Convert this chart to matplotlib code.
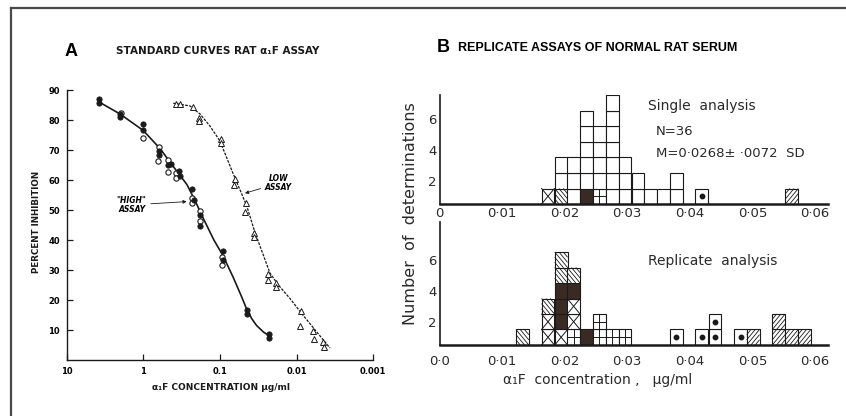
import numpy as np
import matplotlib
matplotlib.use("Agg")
import matplotlib.pyplot as plt
from matplotlib.lines import Line2D
from matplotlib.transforms import ScaledTranslation

# ---- panel A: standard curves (concentration in ug/ml, percent inhibition)
high_filled_c = [3.8, 3.8, 2.0, 2.0, 1.0, 1.0, 0.63, 0.63, 0.48, 0.43, 0.34, 0.33,
                 0.23, 0.216, 0.18, 0.18, 0.092, 0.092, 0.045, 0.045, 0.0227, 0.0227]
high_filled_y = [87.0, 85.6, 82.0, 81.0, 78.7, 76.7, 69.7, 68.3, 65.0, 65.2, 63.0, 61.4,
                 57.0, 53.3, 48.3, 44.7, 36.3, 33.3, 16.7, 15.2, 8.6, 7.4]
high_open_c = [1.95, 1.0, 0.62, 0.64, 0.48, 0.47, 0.37, 0.37, 0.235, 0.235, 0.18, 0.18, 0.093, 0.093]
high_open_y = [82.2, 74.1, 71.1, 66.3, 66.7, 62.8, 62.2, 60.8, 54.1, 52.4, 49.7, 46.3, 34.4, 31.7]
high_curve_c = [3.83, 2.01, 1.0, 0.606, 0.367, 0.27, 0.21, 0.16, 0.12, 0.0923, 0.067,
                0.052, 0.0449, 0.0385, 0.0333, 0.027, 0.0223]
high_curve_y = [86.1, 82.0, 76.5, 70.5, 63.0, 58.5, 53.0, 46.5, 40.0, 35.0, 27.5,
                21.0, 17.0, 13.8, 11.5, 9.3, 8.0]

low_c = [0.375, 0.33, 0.228, 0.188, 0.188, 0.097, 0.097, 0.0637, 0.065, 0.0458, 0.0465,
         0.036, 0.036, 0.0234, 0.0234, 0.0186, 0.0183, 0.00887, 0.0090, 0.00607, 0.0059, 0.00449, 0.0044]
low_y = [85.2, 85.2, 84.2, 80.6, 79.8, 73.6, 72.2, 60.3, 58.3, 52.4, 49.2,
         42.4, 41.1, 28.6, 26.7, 25.8, 24.4, 16.3, 11.4, 9.7, 6.9, 5.9, 4.4]
low_curve_c = [0.406, 0.246, 0.182, 0.135, 0.1, 0.067, 0.0449, 0.0349, 0.0272, 0.0223,
               0.0173, 0.0122, 0.0086, 0.00548, 0.00367]
low_curve_y = [85.6, 84.7, 82.0, 78.0, 73.0, 62.0, 51.5, 42.5, 35.0, 29.0,
               25.0, 20.5, 15.5, 9.4, 4.0]

conc_ticks = [10, 1, 0.1, 0.01, 0.001]
conc_labels = ["10", "1", "0.1", "0.01", "0.001"]
pct_ticks = [10, 20, 30, 40, 50, 60, 70, 80, 90]

# ---- panel B: histograms, one block per determination
# codes from bottom: o open, x crossed, h back-hatched, d dark, p plus, b dot, s hatched
BIN_W = 0.00205
single_x = [0.0163, 0.0184, 0.0204, 0.0225, 0.0245, 0.0266, 0.0286, 0.0307,
            0.0327, 0.0348, 0.0368, 0.0409, 0.0553]
single_stacks = ["x", "hoo", "ooo", "dooooo", "poooo", "ooooooo", "ooo", "oo",
                 "o", "o", "oo", "b", "s"]
repl_x = [0.0122, 0.0163, 0.0184, 0.0204, 0.0225, 0.0245, 0.0266, 0.0286,
          0.0368, 0.0409, 0.0430, 0.0471, 0.0491, 0.0532, 0.0553, 0.0573]
repl_stacks = ["h", "xxh", "xdddhh", "pxxdh", "d", "pp", "p", "p",
               "b", "b", "bb", "b", "s", "ss", "s", "s"]
hist_ticks = [0, 0.01, 0.02, 0.03, 0.04, 0.05, 0.06]
single_tick_labels = ["0", "0·01", "0·02", "0·03", "0·04", "0·05", "0·06"]
repl_tick_labels = ["0·0", "0·01", "0·02", "0·03", "0·04", "0·05", "0·06"]

INK = "#1a1a1a"
DARK = "#3a2a24"
NARROW = ["Liberation Sans Narrow", "DejaVu Sans"]
plt.rcParams["font.family"] = ["DejaVu Sans"]

fig = plt.figure(figsize=(8.46, 4.16), dpi=100)

# page border (top and left only)
fig.add_artist(Line2D([0.013, 1.0], [0.9796, 0.9796], color="#4a4a4a", lw=1.6))
fig.add_artist(Line2D([0.013, 0.013], [0.0, 0.9796], color="#4a4a4a", lw=1.6))

# ================= panel A
axA = fig.add_axes([0.0788, 0.1346, 0.3624, 0.649])
axA.set_xscale("log")
axA.set_xlim(10, 0.001)
axA.set_ylim(0, 90)
for s in ["top", "right"]:
    axA.spines[s].set_visible(False)
for s in ["left", "bottom"]:
    axA.spines[s].set_color(INK)
    axA.spines[s].set_linewidth(1.0)
axA.set_xticks(conc_ticks, conc_labels)
axA.xaxis.set_minor_locator(matplotlib.ticker.NullLocator())
axA.set_yticks(pct_ticks)
axA.tick_params(direction="in", length=4, width=0.9, color=INK, labelsize=6, pad=5)
for lab in axA.get_xticklabels() + axA.get_yticklabels():
    lab.set_fontweight("bold")
    lab.set_family(NARROW)

axA.plot(high_curve_c, high_curve_y, color=INK, lw=1.2, zorder=2)
axA.plot(low_curve_c, low_curve_y, color=INK, lw=0.9, ls=(0, (2.2, 1.0)), zorder=2)
axA.plot(high_open_c, high_open_y, "o", ms=3.8, mfc="white", mec=INK, mew=0.8, zorder=3)
axA.plot(high_filled_c, high_filled_y, "o", ms=3.8, mfc=INK, mec=INK, mew=0.6, zorder=4)
axA.plot(low_c, low_y, "^", ms=4.6, mfc="white", mec=INK, mew=0.7, zorder=3)

axA.annotate('"HIGH"\nASSAY', xy=(0.272, 52.8), xytext=(1.42, 51.7),
             ha="center", va="center", fontsize=5.5, fontweight="bold", style="italic",
             family=NARROW, linespacing=1.0,
             arrowprops=dict(arrowstyle="-|>", lw=0.6, color=INK, mutation_scale=5,
                             shrinkA=1, shrinkB=0))
axA.annotate("LOW\nASSAY", xy=(0.0472, 55.6), xytext=(0.0173, 58.9),
             ha="center", va="center", fontsize=5.5, fontweight="bold", style="italic",
             family=NARROW, linespacing=1.0,
             arrowprops=dict(arrowstyle="-|>", lw=0.6, color=INK, mutation_scale=5,
                             shrinkA=1, shrinkB=0))

fig.text(0.0768, 0.877, "A", fontsize=13, fontweight="bold", ha="left", va="center",
         family=["Liberation Sans", "DejaVu Sans"])
fig.text(0.2577, 0.877, "STANDARD CURVES RAT α₁F ASSAY", fontsize=7.5, fontweight="bold",
         ha="center", va="center", family=NARROW, color=INK)
fig.text(0.0437, 0.466, "PERCENT INHIBITION", rotation=90, fontsize=6.3, fontweight="bold",
         ha="center", va="center", family=NARROW, color=INK)
fig.text(0.261, 0.0697, "α₁F CONCENTRATION µg/ml", fontsize=6.5, fontweight="bold",
         ha="center", va="center", family=NARROW, color=INK)


# ================= panel B
def hatch_lines(ax, left, j, forward):
    # parallel lines inside one block, in block-relative units u, v
    for c in np.arange(1, 6) / 3.0:
        if forward:
            c = c - 1.0
            if c >= 0:
                u, v = [c, 1], [0, 1 - c]
            else:
                u, v = [0, 1 + c], [-c, 1]
        else:
            if c <= 1:
                u, v = [c, 0], [0, c]
            else:
                u, v = [1, c - 1], [c - 1, 1]
        ax.plot([left + BIN_W * ui for ui in u], [j + vi for vi in v],
                color=INK, lw=0.6, zorder=1.5, solid_capstyle="butt")


def draw_stack(ax, left, codes):
    for j, code in enumerate(codes):
        face = DARK if code == "d" else "white"
        ax.bar(left, 1, BIN_W, bottom=j, align="edge", color=face, edgecolor=INK,
               lw=0.8, zorder=1)
        mid = left + BIN_W / 2
        if code == "x":
            ax.plot([left, left + BIN_W], [j, j + 1], color=INK, lw=0.7, zorder=1.5)
            ax.plot([left, left + BIN_W], [j + 1, j], color=INK, lw=0.7, zorder=1.5)
        elif code == "p":
            ax.plot([mid, mid], [j, j + 1], color=INK, lw=0.7, zorder=1.5)
            ax.plot([left, left + BIN_W], [j + 0.5, j + 0.5], color=INK, lw=0.7, zorder=1.5)
        elif code == "b":
            ax.plot(mid, j + 0.5, "o", ms=3.2, color=INK, zorder=1.5)
        elif code == "h":
            hatch_lines(ax, left, j, forward=False)
        elif code == "s":
            hatch_lines(ax, left, j, forward=True)


def style_hist(ax, ytop, labels, pad):
    ax.set_xlim(0, 0.0621)
    ax.set_ylim(0, ytop)
    for s in ["top", "right"]:
        ax.spines[s].set_visible(False)
    ax.spines["left"].set_linewidth(1.2)
    ax.spines["bottom"].set_linewidth(1.8)
    ax.spines["left"].set_color(INK)
    ax.spines["bottom"].set_color(INK)
    ax.set_xticks(hist_ticks, labels)
    ax.set_yticks([2, 4, 6])
    ax.tick_params(axis="x", length=0, labelsize=9.5, pad=pad, labelcolor="#2a2a2a")
    ax.tick_params(axis="y", length=0, labelsize=9.5, pad=2, labelcolor="#2a2a2a")
    # hand-lettered numbers sit a little below their level
    shift = ScaledTranslation(0, -8 / 100, fig.dpi_scale_trans)
    for lab in ax.get_yticklabels():
        lab.set_transform(lab.get_transform() + shift)


axT = fig.add_axes([0.5197, 0.5096, 0.459, 0.262])
for left, codes in zip(single_x, single_stacks):
    draw_stack(axT, left, codes)
style_hist(axT, 7.03, single_tick_labels, 2)

axR = fig.add_axes([0.5197, 0.1707, 0.459, 0.2957])
for left, codes in zip(repl_x, repl_stacks):
    draw_stack(axR, left, codes)
style_hist(axR, 7.94, repl_tick_labels, 7)

fig.text(0.5165, 0.887, "B", fontsize=13, fontweight="bold", ha="left", va="center",
         family=["Liberation Sans", "DejaVu Sans"])
fig.text(0.5414, 0.884, "REPLICATE ASSAYS OF NORMAL RAT SERUM", fontsize=9, fontweight="bold",
         ha="left", va="center", family=["Liberation Sans", "DejaVu Sans"])

fig.text(0.766, 0.745, "Single  analysis", fontsize=10, ha="left", va="center", color="#2a2a2a")
fig.text(0.7754, 0.6827, "N=36", fontsize=9.5, ha="left", va="center", color="#2a2a2a")
fig.text(0.7754, 0.632, "M=0·0268± ·0072  SD", fontsize=9.5, ha="left", va="center", color="#2a2a2a")
fig.text(0.766, 0.3726, "Replicate  analysis", fontsize=10, ha="left", va="center", color="#2a2a2a")
fig.text(0.707, 0.0865, "α₁F  concentration ,   µg/ml", fontsize=10, ha="center", va="center",
         color="#2a2a2a")
fig.text(0.4858, 0.4856, "Number  of  determinations", rotation=90, fontsize=11.5,
         ha="center", va="center", color="#2a2a2a")

fig.savefig("out.png", dpi=100)
